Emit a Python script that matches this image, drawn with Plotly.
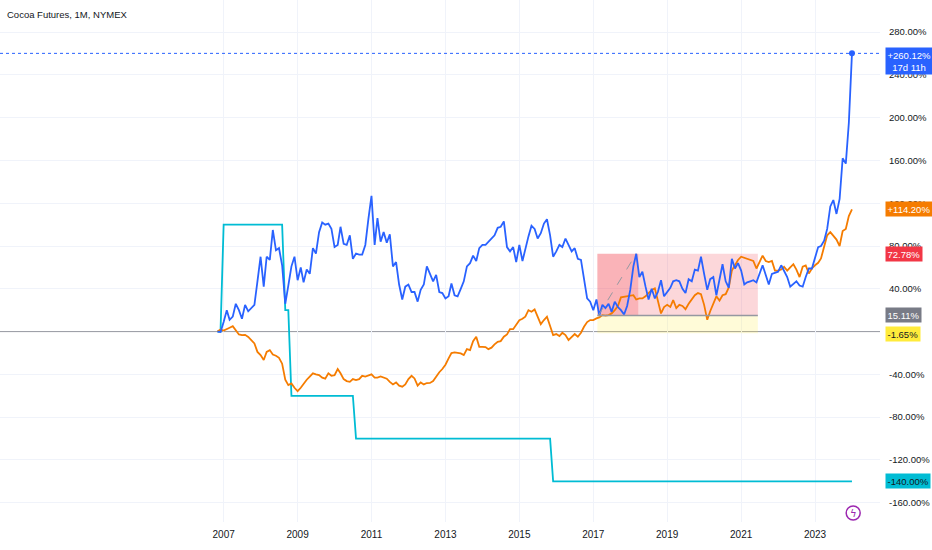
#! /usr/bin/env python
# -*- coding: utf-8 -*-

"""Cocoa futures, monthly, percent scale (tradingview-like look)"""

import pandas as pd
import plotly.graph_objects as go

# data
# ****

# monthly bars, first one is Nov 2006
START = '2006-11-01'

# cocoa, % change from first bar
cocoa = [
    0, -0.3, 9, 20, 11, 14, 26, 20, 12, 25, 19, 22, 25, 47, 70, 42, 70, 67, 95, 76,
    78, 62, 26, 43, 61, 70, 48, 60, 46, 58, 54, 78, 73, 93, 102, 100, 101, 96, 79, 81,
    98, 82, 81, 90, 68, 73, 72, 72, 81, 105, 127, 81, 106, 84, 93, 83, 91, 61, 65, 44,
    30, 42, 44, 37, 37, 28, 39, 44, 61, 54, 47, 53, 37, 36, 31, 33, 45, 34, 33, 40,
    47, 61, 64, 71, 66, 78, 81, 81, 84, 87, 90, 97, 98, 103, 79, 75, 79, 65, 81, 66,
    78, 89, 99, 96, 87, 92, 101, 105, 90, 70, 75, 81, 79, 87, 81, 75, 78, 68, 67, 48,
    31, 28, 20, 30, 15.11, 25, 22, 26, 18.5, 28, 23, 20, 16, 24, 39, 61, 72.78, 51, 56, 42,
    30, 40, 31, 37, 48, 33, 37, 41, 47, 48, 47, 40, 36, 49, 47, 58, 57, 70, 54, 39,
    49, 51, 34, 48, 63, 47, 41, 68, 59, 64, 57, 44, 46, 47, 48, 46, 54, 62, 53, 44,
    54, 55, 56, 62, 57, 51, 42, 45, 47, 43, 42, 51, 59, 59, 70, 79, 80, 85, 96, 117,
    123, 110, 124, 162, 157, 195, 260.12,
]

# comparison symbol, % change from first bar
other = [
    0, 2, 1, 2, 3.6, 5, 1.5, -2.7, -3.3, -3, -5, -8, -11, -19, -22, -26.6, -19, -17.3, -21.5, -22.6,
    -24.5, -30, -45, -50, -48.4, -52.5, -55.6, -52.5, -48.4, -45, -42, -39, -40, -40.7, -43, -44, -39, -41.3, -40.7, -35,
    -39, -44.4, -46.3, -47, -44.4, -45.3, -44.4, -41.3, -42, -40.7, -40, -43, -43, -42, -43, -44, -47, -49.4, -47.5, -50.6,
    -51.5, -49.4, -44.4, -41.3, -43.8, -50.6, -47.5, -49.4, -48.1, -48, -46.3, -42, -38, -35, -31, -25, -20, -19.5, -19.8, -20.4,
    -22, -16.4, -17.3, -8.9, -4.8, -14.2, -14.2, -14.5, -16.4, -15, -12, -9.5, -8.9, -4.8, -2.6, 2.3, 2.3, 6.1, 10.7, 12,
    14, 20, 18.5, 20.7, 13.3, 7, 10.8, 13.9, 5.2, -3.3, -2.3, -4.2, -1.1, -3.3, -7.9, -5.4, -2.3, -4.8, -1.1, 4.5,
    8.9, 10.8, 10.8, 12.3, 13.3, 15.4, 15, 15.5, 17, 20.1, 23.8, 32, 32.6, 33, 33.2, 34, 30, 31, 31, 33,
    36, 39, 40.4, 30, 17, 23, 25, 23, 29.5, 22, 25, 24, 21, 26, 30, 34, 36, 35, 25, 11,
    19, 27, 33, 29, 34, 35, 41.3, 57, 62, 67, 70, 69, 68, 67.5, 66, 59, 65, 71, 66, 65,
    66, 57, 57, 58, 60.6, 57, 60, 63, 58, 51, 60.6, 61.8, 54.4, 59, 62, 64.3, 68.4, 79.3, 90, 93,
    90, 86, 80, 94, 96, 108, 114.2,
]

# step indicator: only the bars where it changes level
step_dates = ['2006-11-01', '2006-12-01', '2007-01-01', '2008-08-01', '2008-09-01', '2008-10-01',
              '2008-11-01', '2010-07-01', '2010-08-01', '2015-11-01', '2015-12-01', '2024-01-01']
step_values = [0, 0, 100, 100, 20, 20, -60, -60, -100, -100, -140, -140]

# price range drawing
range_start, range_split, range_end = '2017-02-10', '2018-03-22', '2021-06-15'
range_top, range_mid, range_low = 72.78, 15.11, -1.65

# axes
year_ticks = [f'{y}-01-01' for y in range(2007, 2024, 2)]
year_labels = [str(y) for y in range(2007, 2024, 2)]
pct_ticks = [v for v in range(-160, 281, 40) if v != 0]  # 0% sits under the range labels

# style
BLUE = '#2962ff'
ORANGE = '#f57c00'
CYAN = '#00bcd4'
RED = '#f23645'
GREY = '#9598a1'
TEXT = '#131722'
GRID = '#f0f3fa'
FONT = 'Liberation Sans, Arial, sans-serif'

dates = pd.date_range(START, periods=len(cocoa), freq='MS')


def pct(v):
    return f'{v:.2f}%'


fig = go.Figure()

# series
fig.add_trace(go.Scatter(x=step_dates, y=step_values, mode='lines',
                         line=dict(color=CYAN, width=1.8)))
fig.add_trace(go.Scatter(x=dates, y=other, mode='lines',
                         line=dict(color=ORANGE, width=1.8)))
fig.add_trace(go.Scatter(x=dates, y=cocoa, mode='lines',
                         line=dict(color=BLUE, width=1.8)))
fig.add_trace(go.Scatter(x=[dates[-1]], y=[cocoa[-1]], mode='markers',
                         marker=dict(color=BLUE, size=6)))

# drawings (price range)
shapes = [
    dict(type='rect', xref='x', yref='y', x0=range_start, x1=range_split, y0=range_mid, y1=range_top,
         fillcolor='rgba(242,54,69,0.38)', line_width=0, layer='between'),
    dict(type='rect', xref='x', yref='y', x0=range_split, x1=range_end, y0=range_mid, y1=range_top,
         fillcolor='rgba(242,54,69,0.2)', line_width=0, layer='between'),
    dict(type='rect', xref='x', yref='y', x0=range_start, x1=range_end, y0=range_low, y1=range_mid,
         fillcolor='rgba(255,235,59,0.2)', line_width=0, layer='between'),
    dict(type='line', xref='x', yref='y', x0=range_start, x1=range_end, y0=range_mid, y1=range_mid,
         line=dict(color=GREY, width=1.5)),
    dict(type='line', xref='x', yref='y', x0='2017-02-20', x1='2018-03-01', y0=range_mid, y1=range_top,
         line=dict(color=GREY, width=1, dash='dash')),
    # zero line
    dict(type='line', xref='paper', yref='y', x0=0, x1=1, y0=0, y1=0,
         line=dict(color=GREY, width=1), layer='between'),
    # last price line
    dict(type='line', xref='paper', yref='y', x0=0, x1=1, y0=cocoa[-1], y1=cocoa[-1],
         line=dict(color=BLUE, width=1, dash='dot')),
    # lightning badge
    dict(type='circle', xref='x', yref='y', xsizemode='pixel', ysizemode='pixel',
         xanchor='2024-01-13', yanchor=-169.6, x0=-7, x1=7, y0=-7, y1=7,
         line=dict(color='#9c27b0', width=1.5)),
]


# labels on the price scale
def scale_label(y, text, bg, fg='white', yanchor='middle', yshift=0):
    return dict(xref='paper', yref='y', x=1, y=y, xanchor='left', yanchor=yanchor,
                xshift=5, yshift=yshift, text=text, showarrow=False,
                bgcolor=bg, borderpad=1.5, align='center',
                font=dict(family=FONT, size=9.5, color=fg))


annotations = [
    scale_label(cocoa[-1], f'+{cocoa[-1]:.2f}%<br>17d 11h', BLUE, yanchor='top', yshift=6),
    scale_label(other[-1], f'+{other[-1]:.2f}%', ORANGE),
    scale_label(range_top, pct(range_top), RED),
    scale_label(range_mid, pct(range_mid), '#787b86'),
    scale_label(range_low - 0.5, pct(range_low), '#ffeb3b', fg=TEXT),
    scale_label(step_values[-1], pct(step_values[-1]), CYAN, fg=TEXT),
    dict(xref='paper', yref='paper', x=0, y=1, xanchor='left', yanchor='top',
         xshift=5, yshift=-7, text='Cocoa Futures, 1M, NYMEX', showarrow=False,
         font=dict(family=FONT, size=9.5, color=TEXT)),
    dict(xref='x', yref='y', x='2024-01-13', y=-169.6, text='\u03df', showarrow=False,
         font=dict(family='DejaVu Sans', size=10, color='#9c27b0')),
]

fig.update_layout(
    width=932, height=550,
    margin=dict(l=0, r=52, t=0, b=28),
    paper_bgcolor='white', plot_bgcolor='white',
    showlegend=False,
    shapes=shapes,
    annotations=annotations,
    font=dict(family=FONT, size=10, color=TEXT),
    xaxis=dict(
        range=['2000-12-13', '2024-10-04'],
        tickvals=year_ticks, ticktext=year_labels,
        showgrid=True, gridcolor=GRID, gridwidth=1,
        zeroline=False, showline=False, ticks='',
        automargin=False, ticklabelstandoff=5,
        tickfont=dict(family=FONT, size=10, color=TEXT),
    ),
    yaxis=dict(
        side='right', range=[-178, 310],
        tickvals=pct_ticks, ticktext=[pct(v) for v in pct_ticks],
        showgrid=True, gridcolor=GRID, gridwidth=1,
        zeroline=False, showline=False, ticks='',
        ticklabelstandoff=8, automargin=False,
        tickfont=dict(family=FONT, size=9.5, color=TEXT),
    ),
)

# page body has a default 8px margin, drop it so the chart sits at 0,0
fig.write_html('out.html', config={'displayModeBar': False},
               post_script="document.body.style.margin='0';")
